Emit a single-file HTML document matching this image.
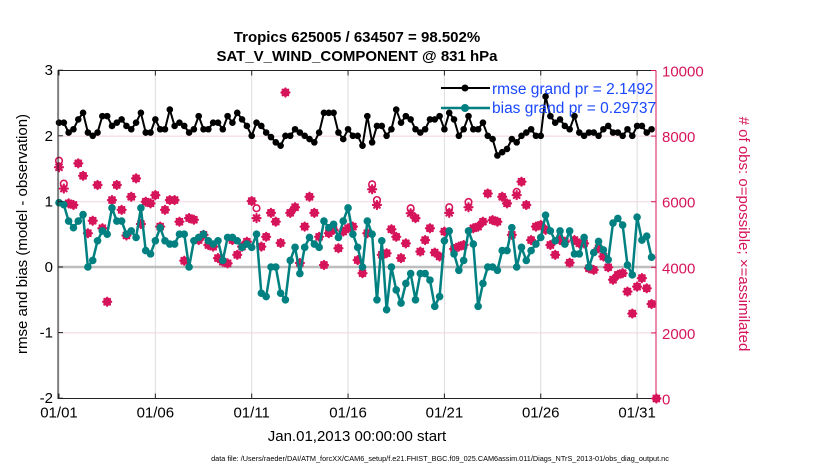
<!DOCTYPE html>
<html><head><meta charset="utf-8"><style>
body{margin:0;background:#fff;}
svg text{font-family:"Liberation Sans",Arial,sans-serif;}
</style></head><body>
<svg id="chart" width="830" height="470" viewBox="0 0 830 470" xmlns="http://www.w3.org/2000/svg">
<g id="grid"></g>
<g id="series"></g>
<g id="axes"></g>
<text x="357" y="42" text-anchor="middle" font-size="15" font-weight="bold">Tropics 625005 / 634507 = 98.502%</text>
<text x="357" y="61" text-anchor="middle" font-size="15" font-weight="bold">SAT_V_WIND_COMPONENT @ 831 hPa</text>
<text transform="translate(27,234) rotate(-90)" text-anchor="middle" font-size="15">rmse and bias (model - observation)</text>
<text transform="translate(739,234) rotate(90)" text-anchor="middle" font-size="15" fill="#d6145a"># of obs: o=possible; ×=assimilated</text>
<text x="357" y="441" text-anchor="middle" font-size="15">Jan.01,2013 00:00:00 start</text>
<text x="440" y="461" text-anchor="middle" font-size="7.3">data file: /Users/raeder/DAI/ATM_forcXX/CAM6_setup/f.e21.FHIST_BGC.f09_025.CAM6assim.011/Diags_NTrS_2013-01/obs_diag_output.nc</text>
<g>
<line x1="441" y1="88" x2="490" y2="88" stroke="#000" stroke-width="2"/>
<circle cx="465" cy="88" r="3.5" fill="#000"/>
<text x="492" y="94" font-size="15.5" fill="#1a48ff">rmse grand pr = 2.1492</text>
<line x1="441" y1="108" x2="490" y2="108" stroke="#008080" stroke-width="2.5"/>
<circle cx="465" cy="108" r="4" fill="#008080"/>
<text x="492" y="113" font-size="15.5" fill="#1a48ff">bias grand pr = 0.29737</text>
</g>
</svg>
<script>
const xTickLabels=["01/01","01/06","01/11","01/16","01/21","01/26","01/31"];
const leftTicks=[3,2,1,0,-1,-2];
const rightTicks=[10000,8000,6000,4000,2000,0];
const rmse=[2.2,2.2,2.05,2.1,2.25,2.35,2.05,2.0,2.05,2.3,2.3,2.15,2.2,2.25,2.15,2.1,2.2,2.35,2.05,2.05,2.25,2.1,2.1,2.4,2.15,2.2,2.15,2.05,2.1,2.3,2.1,2.1,2.2,2.2,2.1,2.3,2.2,
2.35,2.25,2.15,2.0,2.2,2.15,2.05,1.98,1.9,1.85,2.0,2.0,2.1,2.05,2.0,1.95,1.9,2.05,2.35,2.35,2.35,2.05,1.95,2.1,2.0,2.0,1.85,2.3,1.9,2.15,2.15,2.0,2.1,2.4,2.2,2.3,2.25,2.1,2.05,2.1,
2.25,2.25,2.3,2.1,2.35,2.25,2.0,2.1,2.3,2.1,2.1,2.2,2.0,1.95,1.7,1.75,1.8,1.95,1.9,2.0,2.05,2.1,2.0,2.0,2.6,2.3,2.2,2.25,2.15,2.1,2.3,2.05,2.0,2.05,2.05,2.0,
2.1,2.15,2.05,2.05,2.0,2.1,2.0,2.15,2.15,2.05,2.1];
const bias=[0.98,0.95,0.7,0.6,0.7,0.8,0.0,0.1,0.4,0.55,0.5,0.9,0.7,0.7,0.5,0.55,0.45,0.9,0.25,0.2,0.4,0.6,0.4,0.35,0.35,0.5,0.5,0.0,0.4,0.45,0.5,0.4,0.35,0.4,0.1,0.45,0.45,
0.4,0.3,0.35,0.3,0.5,-0.4,-0.45,0.0,0.0,-0.4,-0.5,0.1,0.3,-0.1,0.3,0.45,0.35,0.3,0.7,0.6,0.65,0.45,0.7,0.9,0.5,0.3,0.0,0.7,0.5,-0.5,0.4,-0.65,0.0,-0.35,-0.55,-0.25,-0.1,-0.5,-0.1,-0.1,
-0.2,-0.6,-0.45,0.4,0.55,0.2,-0.05,0.1,0.55,0.35,-0.6,-0.25,0.0,0.0,-0.05,0.25,0.25,0.6,0.0,0.3,0.1,0.25,0.35,0.45,0.79,0.55,0.4,0.55,0.35,0.55,0.2,0.2,0.45,0.0,
0.22,0.39,0.26,0.11,0.67,0.74,0.64,0.03,-0.12,0.76,0.41,0.47,0.15];
const assimilated=[7050,6400,5950,5900,7170,6790,5040,5420,6510,5190,2950,6050,6510,5750,4970,6150,6710,5320,6000,5950,6200,5240,5750,6050,6050,5390,4200,5500,5450,4830,4990,4680,4630,4280,4170,4120,4830,
4380,4630,4780,6020,5500,4630,4930,5660,5390,4740,9330,5660,5830,4130,5240,6150,5660,4930,4070,5040,5140,4580,5090,5190,5240,4220,3820,5040,6380,5900,4380,4430,5160,4930,4280,4730,5650,5500,4480,4830,
5190,4450,4330,5090,5660,4560,4630,4680,5830,5190,5240,5390,6250,5440,5390,6150,5950,4990,6200,6610,5900,4830,5240,5290,5140,4680,4380,4830,4780,4140,4830,4730,4730,
3970,3920,4580,4330,4000,3620,3770,3820,3260,2590,3410,3670,3360,2880,0];
const possible=[7250,6550,5950,5900,7170,6790,5040,5420,6510,5190,2950,6050,6510,5750,4970,6150,6710,5320,6000,5950,6200,5240,5750,6050,6050,5390,4200,5500,5450,4830,4990,4680,4630,4280,4170,4120,4830,
4380,4630,4780,6020,5800,4630,4930,5660,5390,4740,9330,5660,5830,4130,5240,6150,5660,4930,4070,5040,5140,4580,5090,5190,5240,4220,3820,5040,6530,6050,4380,4430,5160,4930,4280,4730,5800,5500,4480,4830,
5190,4450,4330,5090,5830,4560,4630,4680,5990,5190,5240,5390,6250,5440,5390,6150,5950,4990,6300,6610,5900,4830,5240,5290,5140,4680,4380,4830,4780,4140,4830,4730,4730,
3970,3920,4580,4330,4000,3620,3770,3820,3260,2590,3410,3670,3360,2880,0];

const NS="http://www.w3.org/2000/svg";
const X0=58,X1=656,Y0=70.5,Y1=398.5;
const dayPx=19.27, firstDayX=59;
function xIdx(i){return firstDayX+i*dayPx/4;}
function xDay(d){return firstDayX+d*dayPx;}
function yL(v){return 267-v*65.6;}
function yR(c){return Y1-c*(Y1-Y0)/10000;}
function mk(tag,attrs,parent){const e=document.createElementNS(NS,tag);for(const k in attrs)e.setAttribute(k,attrs[k]);parent.appendChild(e);return e;}
const grid=document.getElementById('grid'),axes=document.getElementById('axes'),ser=document.getElementById('series');

xTickLabels.forEach((t,k)=>{const x=xDay(k*5);
 const g=mk('line',{x1:x,y1:Y0,x2:x,y2:Y1,stroke:'#dcdcdc','stroke-width':1},grid);
 
 
});
rightTicks.forEach(c=>{const y=yR(c);
 const g=mk('line',{x1:X0,y1:y,x2:X1,y2:y,stroke:'#f2d4df','stroke-width':1},grid);
 
 
});
const zl=mk('line',{x1:X0,y1:yL(0),x2:X1,y2:yL(0),stroke:'#bdbdbd','stroke-width':2.5},grid);



const pink='#d6145a';
possible.forEach((c,i)=>{const x=xIdx(i),y=yR(c);
 const o=mk('circle',{cx:x,cy:y,r:3.3,fill:'none',stroke:pink,'stroke-width':1.6},ser);
 
 
});
assimilated.forEach((c,i)=>{const x=xIdx(i),y=yR(c);
 const g=mk('g',{stroke:pink,'stroke-width':2.2,'stroke-linecap':'round'},ser);
 
 
 const r=4;
 mk('line',{x1:x-r,y1:y,x2:x+r,y2:y},g);
 mk('line',{x1:x,y1:y-r,x2:x,y2:y+r},g);
 mk('line',{x1:x-r*0.7,y1:y-r*0.7,x2:x+r*0.7,y2:y+r*0.7},g);
 mk('line',{x1:x-r*0.7,y1:y+r*0.7,x2:x+r*0.7,y2:y-r*0.7},g);
 mk('circle',{cx:x,cy:y,r:2.4,fill:pink,stroke:'none'},g);
});

let pb=bias.map((v,i)=>xIdx(i)+','+yL(v)).join(' ');
const bl=mk('polyline',{points:pb,fill:'none',stroke:'#008080','stroke-width':2.5,'stroke-linejoin':'round'},ser);


bias.forEach((v,i)=>{const c=mk('circle',{cx:xIdx(i),cy:yL(v),r:3.8,fill:'#008080'},ser);
 
 
});
let pr=rmse.map((v,i)=>xIdx(i)+','+yL(v)).join(' ');
const rl=mk('polyline',{points:pr,fill:'none',stroke:'#000','stroke-width':2,'stroke-linejoin':'round'},ser);


rmse.forEach((v,i)=>{const c=mk('circle',{cx:xIdx(i),cy:yL(v),r:3.3,fill:'#000'},ser);
 
 
});

const f1=mk('path',{d:`M${X1},${Y0} L${X0},${Y0} L${X0},${Y1} L${X1},${Y1}`,fill:'none',stroke:'#222','stroke-width':1},axes);


const ra=mk('line',{x1:X1,y1:Y0,x2:X1,y2:Y1,stroke:pink,'stroke-width':1},axes);


xTickLabels.forEach((t,k)=>{const x=xDay(k*5);
 mk('line',{x1:x,y1:Y1,x2:x,y2:Y1-5,stroke:'#222'},axes);
 mk('line',{x1:x,y1:Y0,x2:x,y2:Y0+5,stroke:'#222'},axes);
 const tx=mk('text',{x:x,y:Y1+19,'text-anchor':'middle','font-size':15},axes);
 tx.textContent=t;
 
 
});
leftTicks.forEach(v=>{const y=yL(v);
 mk('line',{x1:X0,y1:y,x2:X0+5,y2:y,stroke:'#222'},axes);
 const tx=mk('text',{x:X0-5,y:y+5,'text-anchor':'end','font-size':15},axes);
 tx.textContent=v;
 
 
});
rightTicks.forEach(c=>{const y=yR(c);
 mk('line',{x1:X1,y1:y,x2:X1-5,y2:y,stroke:pink},axes);
 const tx=mk('text',{x:X1+6,y:y+6,'font-size':15,fill:pink},axes);
 tx.textContent=c;
 
 
});
</script>
</body></html>
